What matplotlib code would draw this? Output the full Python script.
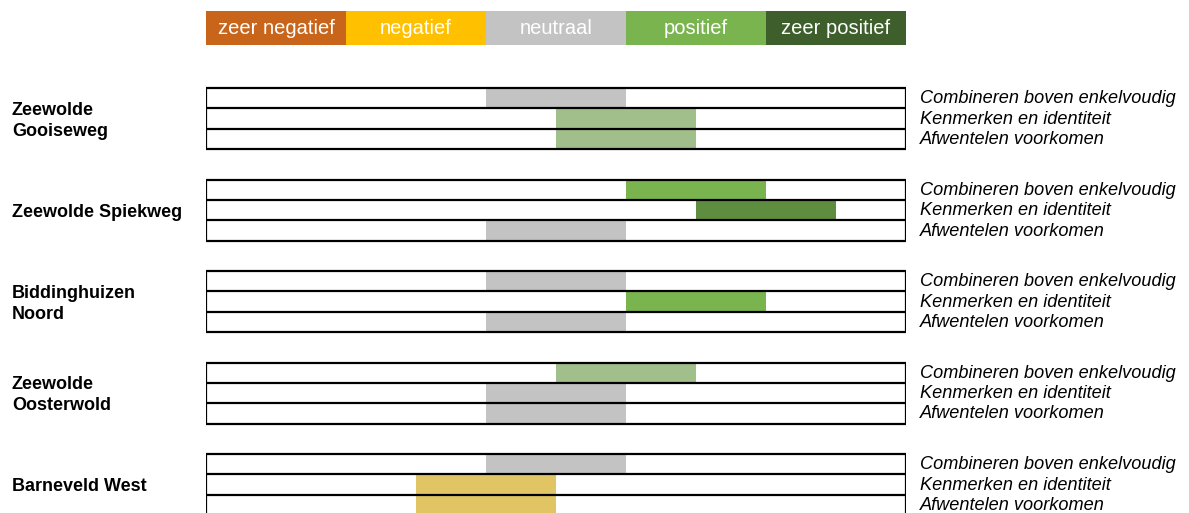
import matplotlib
matplotlib.use("Agg")
import matplotlib.pyplot as plt
from matplotlib.patches import Rectangle
import matplotlib.transforms as mtransforms

plt.rcParams['font.family'] = ['Liberation Sans', 'DejaVu Sans']

# ---- data ----
scale_labels = ["zeer negatief", "negatief", "neutraal", "positief", "zeer positief"]
scale_colors = ["#C8651B", "#FFC000", "#C3C3C3", "#7AB44F", "#3E5F2C"]
half_colors = {1.5: "#E1C565", 2.5: "#A0BF8B", 3.5: "#5F8D3F"}

locations = ["Zeewolde\nGooiseweg", "Zeewolde Spiekweg", "Biddinghuizen\nNoord",
             "Zeewolde\nOosterwold", "Barneveld West"]
criteria = ["Combineren boven enkelvoudig", "Kenmerken en identiteit", "Afwentelen voorkomen"]
# score index on the scale (0 = zeer negatief ... 4 = zeer positief), .5 = in between
scores = [
    [2, 2.5, 2.5],
    [3, 3.5, 2],
    [2, 3, 2],
    [2.5, 2, 2],
    [2, 1.5, 1.5],
]

# ---- layout (pixel units) ----
W, H = 1189, 513
fig = plt.figure(figsize=(W / 100, H / 100), dpi=100)
ax = fig.add_axes([206 / W, 0, 700 / W, 1])
ax.set_xlim(0, len(scale_labels))
ax.set_ylim(H, 0)
ax.axis('off')

# legend bar
leg_top, leg_h = 11, 34
for i, (lab, col) in enumerate(zip(scale_labels, scale_colors)):
    ax.barh(leg_top + leg_h / 2, 1, left=i, height=leg_h, color=col, edgecolor='none')
    ax.text(i + 0.5, leg_top + leg_h / 2, lab, color='white', ha='center', va='center',
            fontsize=14.5)

first_top, group_step, row_h = 88, 91.5, 20.4
trans_lbl = mtransforms.blended_transform_factory(fig.transFigure, ax.transData)

for g, (loc, sc) in enumerate(zip(locations, scores)):
    gtop = first_top + g * group_step
    for r, (crit, s) in enumerate(zip(criteria, sc)):
        rtop = gtop + r * row_h
        col = scale_colors[int(s)] if float(s).is_integer() else half_colors[s]
        ax.barh(rtop + row_h / 2, 1, left=s, height=row_h, color=col, edgecolor='none')
        ax.text(len(scale_labels) + 0.1, rtop + row_h / 2 + 0.5, crit, style='italic',
                ha='left', va='center', fontsize=13.1, clip_on=False)
    # frame and row dividers
    ax.add_patch(Rectangle((0, gtop), len(scale_labels), 3 * row_h, fill=False,
                           edgecolor='black', lw=1.6, zorder=5))
    for r in (1, 2):
        ax.plot([0, len(scale_labels)], [gtop + r * row_h] * 2, color='black', lw=1.6,
                zorder=5, solid_capstyle='butt')
    ax.text(12 / W, gtop + 1.5 * row_h + 2, loc, transform=trans_lbl, fontweight='bold',
            ha='left', va='center', fontsize=13, linespacing=1.3)

fig.savefig("out.png", dpi=100)
